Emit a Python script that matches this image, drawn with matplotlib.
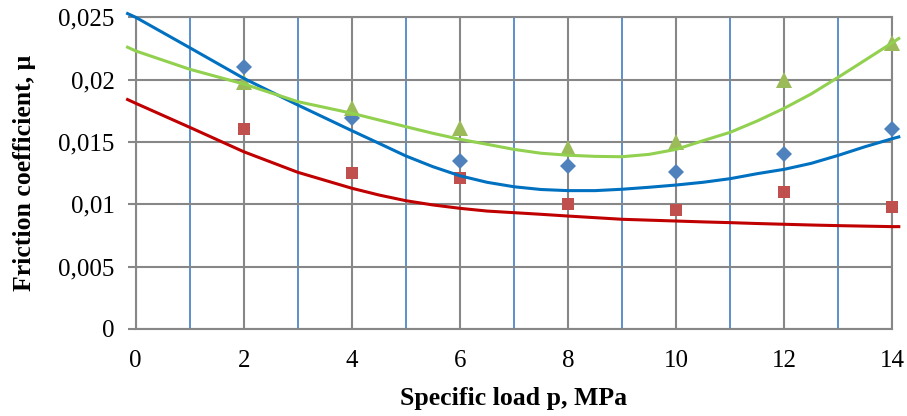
import matplotlib
matplotlib.use("Agg")
import matplotlib.pyplot as plt
from matplotlib.ticker import MultipleLocator

plt.rcParams['font.family'] = ['Liberation Serif', 'DejaVu Serif']

# measured points
p = [2, 4, 6, 8, 10, 12, 14]
mu_blue = [0.0210, 0.0169, 0.0135, 0.0131, 0.0126, 0.0140, 0.0160]
mu_red = [0.0160, 0.0125, 0.0121, 0.0100, 0.0095, 0.0110, 0.0098]
mu_green = [0.0198, 0.0177, 0.0161, 0.0145, 0.0150, 0.0200, 0.0229]

# trend lines
p_trend = [-0.15, 0, 1, 2, 3, 4, 4.5, 5, 5.5, 6, 6.5, 7, 7.5, 8, 8.5, 9, 9.5,
           10, 10.5, 11, 11.5, 12, 12.5, 13, 13.5, 14, 14.12]
trend_blue = [0.0253, 0.0250, 0.02256, 0.0201, 0.01796, 0.0159, 0.01489, 0.01387,
              0.01301, 0.01228, 0.01176, 0.0114, 0.01118, 0.01109, 0.01109, 0.0112,
              0.01136, 0.01154, 0.01176, 0.01205, 0.01245, 0.0128, 0.01328, 0.01392,
              0.01462, 0.01526, 0.0154]
trend_green = [0.0226, 0.0223, 0.02083, 0.01965, 0.01823, 0.0173, 0.01676, 0.01622,
               0.01569, 0.01521, 0.01481, 0.0144, 0.01409, 0.01393, 0.01384, 0.01381,
               0.0140, 0.0144, 0.0151, 0.01577, 0.01668, 0.0177, 0.01885, 0.02019,
               0.02157, 0.02296, 0.0233]
trend_red = [0.0184, 0.0181, 0.01617, 0.01421, 0.01256, 0.01128, 0.01074, 0.01028,
             0.00994, 0.00967, 0.00945, 0.00932, 0.00919, 0.00905, 0.00892, 0.00879,
             0.00872, 0.00865, 0.00858, 0.00852, 0.00845, 0.00839, 0.00833, 0.00828,
             0.00824, 0.0082, 0.0082]

yticks = [0, 0.005, 0.01, 0.015, 0.02, 0.025]
ytick_labels = ['0', '0,005', '0,01', '0,015', '0,02', '0,025']
xticks = [0, 2, 4, 6, 8, 10, 12, 14]

grey = '#878787'
fig = plt.figure(figsize=(9.07, 4.16), dpi=100)
ax = fig.add_axes([0.1496, 0.2096, 0.8342, 0.7488])

ax.set_xlim(0, 14)
ax.set_ylim(0, 0.025)
ax.set_xticks(xticks)
ax.xaxis.set_minor_locator(MultipleLocator(1))
ax.set_yticks(yticks)
ax.set_yticklabels(ytick_labels)

ax.grid(which='major', color=grey, lw=1.5)
ax.grid(which='minor', axis='x', color='#5a8fcf', lw=1.4)
ax.set_axisbelow(True)
for s in ax.spines.values():
    s.set_color(grey)
    s.set_linewidth(1.5)

ax.tick_params(axis='y', which='major', length=6, width=1.5, color=grey,
               labelsize=18, pad=9)
ax.tick_params(axis='x', which='both', length=0, labelsize=18, pad=15)

ax.plot(p, mu_blue, 'D', color='#4f81bd', ms=8.5, mew=0, clip_on=False, zorder=3)
ax.plot(p, mu_red, 's', color='#c0504d', ms=8, mew=0, clip_on=False, zorder=3)
ax.plot(p, mu_green, '^', color='#9bbb59', ms=11, mew=0, clip_on=False, zorder=4)

ax.plot(p_trend, trend_blue, color='#0070c0', lw=2.2, clip_on=False, zorder=5)
ax.plot(p_trend, trend_red, color='#c00000', lw=2.2, clip_on=False, zorder=5)
ax.plot(p_trend, trend_green, color='#92d050', lw=2.2, clip_on=False, zorder=5)

ax.set_xlabel('Specific load p, MPa', fontsize=18.5, fontweight='bold', labelpad=11)
ax.set_ylabel('Friction coefficient, μ', fontsize=18.5, fontweight='bold', labelpad=16)

fig.savefig('out.png', dpi=100)
